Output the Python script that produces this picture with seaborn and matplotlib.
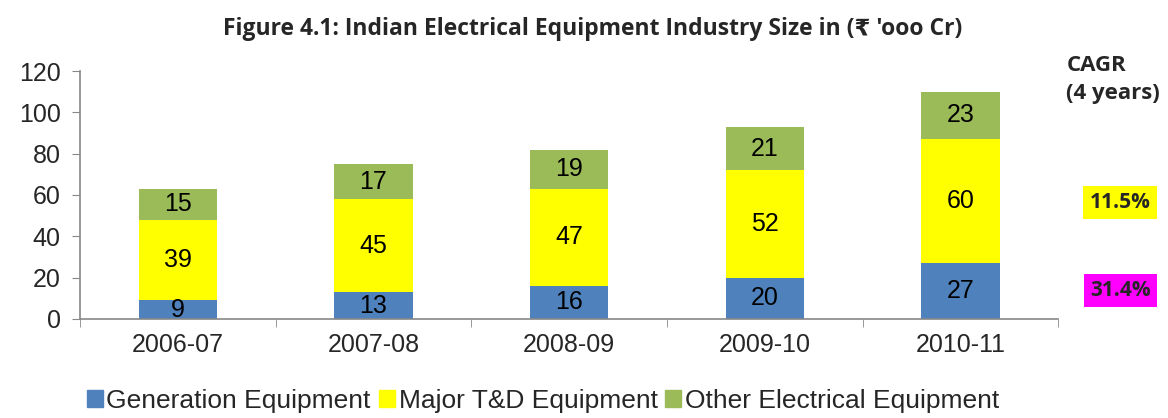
import numpy as np
import pandas as pd
import matplotlib
matplotlib.use('Agg')
import matplotlib.pyplot as plt
import seaborn as sns

years = ['2006-07', '2007-08', '2008-09', '2009-10', '2010-11']
generation = [9, 13, 16, 20, 27]
major_td = [39, 45, 47, 52, 60]
other = [15, 17, 19, 21, 23]
series_names = ['Generation Equipment', 'Major T&D Equipment', 'Other Electrical Equipment']
colors = ['#4F81BD', '#FFFF00', '#9BBB59']
cagr = ['11.5%', '31.4%']

sns.set_style('white')
plt.rcParams['font.family'] = ['Liberation Sans', 'DejaVu Sans']

df = pd.DataFrame({'year': years, 'gen': generation, 'td': major_td, 'other': other})
df['cum_gen'] = df['gen']
df['cum_td'] = df['gen'] + df['td']
df['cum_other'] = df['cum_td'] + df['other']

fig = plt.figure(figsize=(11.68, 4.18), dpi=100)
ax = fig.add_axes([0.0685, 0.237, 0.8375, 0.593])

# stacked via overlapping cumulative bars, tallest first
for col, c in zip(['cum_other', 'cum_td', 'cum_gen'], colors[::-1]):
    sns.barplot(data=df, x='year', y=col, color=c, width=0.4, ax=ax,
                saturation=1, linewidth=0)

# segment labels
for i in range(len(years)):
    base = 0
    for vals in (generation, major_td, other):
        v = vals[i]
        ax.text(i, base + v / 2, str(v), ha='center', va='center', fontsize=18, color='black')
        base += v

ax.set_ylim(0, 120)
ax.set_xlim(-0.5, 4.5)
ax.set_yticks(range(0, 121, 20))
ax.set_xlabel('')
ax.set_ylabel('')
ax.tick_params(axis='y', labelsize=18, length=6, color='#888888', direction='out', left=True, pad=8)
ax.tick_params(axis='x', which='major', labelsize=18, length=0, pad=10)
ax.set_xticks(np.arange(-0.5, 5, 1), minor=True)
ax.tick_params(axis='x', which='minor', length=6, color='#888888', direction='out', bottom=True)
for s in ['top', 'right']:
    ax.spines[s].set_visible(False)
for s in ['left', 'bottom']:
    ax.spines[s].set_color('#888888')
    ax.spines[s].set_linewidth(1.2)

# legend
handles = [plt.Rectangle((0, 0), 1, 1, color=c) for c in colors]
fig.legend(handles, series_names, loc='lower center', bbox_to_anchor=(0.465, -0.045), ncol=3,
           frameon=False, fontsize=19, handlelength=0.6, handleheight=0.6,
           handletextpad=0.15, columnspacing=0.3)

fig.text(0.507, 0.93, "Figure 4.1: Indian Electrical Equipment Industry Size in (\u20b9 'ooo Cr)",
         ha='center', va='center', fontsize=16.5, fontweight='bold', family=['Open Sans', 'DejaVu Sans'])
fig.text(0.913, 0.81, 'CAGR\n(4 years)', ha='left', va='center', fontsize=16,
         fontweight='bold', linespacing=1.45, family=['Open Sans', 'DejaVu Sans'])
fig.text(0.959, 0.515, cagr[0], ha='center', va='center', fontsize=15, fontweight='bold',
         family=['Open Sans', 'DejaVu Sans'],
         bbox=dict(facecolor='#FFFF00', edgecolor='none', boxstyle='square,pad=0.3'))
fig.text(0.959, 0.305, cagr[1], ha='center', va='center', fontsize=15, fontweight='bold',
         family=['Open Sans', 'DejaVu Sans'],
         bbox=dict(facecolor='#FF00FF', edgecolor='none', boxstyle='square,pad=0.3'))

fig.savefig('out.png', dpi=100)
